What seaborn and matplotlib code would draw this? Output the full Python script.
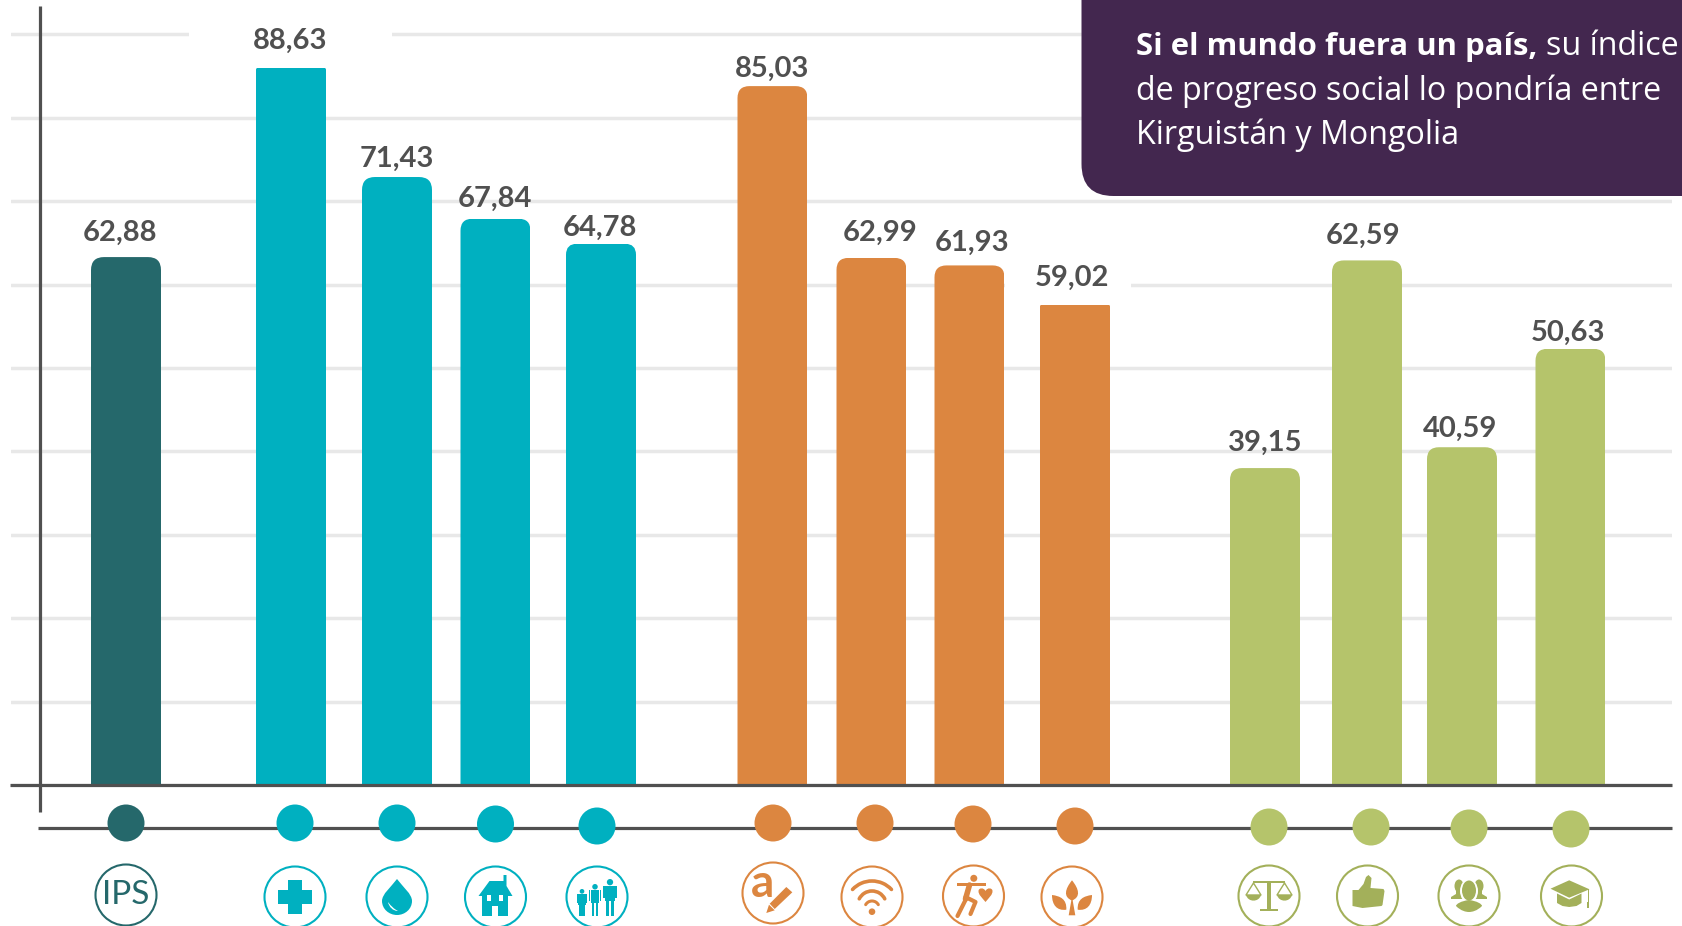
import numpy as np
import pandas as pd
import matplotlib
matplotlib.use("Agg")
import matplotlib.pyplot as plt
import matplotlib.patches as mp
from matplotlib.path import Path
from matplotlib.transforms import Affine2D
import seaborn as sns

# ---------- data ----------
categories = ["IPS", "Nutricion", "Agua", "Vivienda", "Seguridad",
              "Conocimientos", "Informacion", "Salud", "Ambiente",
              "Derechos", "Libertad", "Tolerancia", "Educacion"]
groups = ["Indice", "Necesidades", "Necesidades", "Necesidades", "Necesidades",
          "Fundamentos", "Fundamentos", "Fundamentos", "Fundamentos",
          "Oportunidades", "Oportunidades", "Oportunidades", "Oportunidades"]
value_labels = [62.88, 88.63, 71.43, 67.84, 64.78, 85.03, 62.99, 61.93, 59.02,
                39.15, 62.59, 40.59, 50.63]
# bar heights as actually drawn, read against the gridlines
bar_heights = [63.3, 86.0, 72.9, 67.9, 64.9, 83.8, 63.2, 62.3, 57.6,
               38.0, 62.9, 40.5, 52.3]
grid_ticks = [0, 10, 20, 30, 40, 50, 60, 70, 80, 90]
box_bold = "Si el mundo fuera un país,"
box_lines = [" su índice", "de progreso social lo pondría entre", "Kirguistán y Mongolia"]

# ---------- layout (pixels) ----------
W, H = 1683, 926
BASE_Y, UNIT = 785, 8.34
bar_x = [126, 291, 397, 495.5, 601, 772.5, 871.5, 969.5, 1075, 1265, 1367, 1462, 1570.5]
bar_w = 70
radius = [13, 2, 13, 12, 11, 12, 12, 12, 2, 12, 12, 12, 12]
label_x = [120, 290, 397, 495, 600, 772, 880, 972, 1072, 1265, 1363, 1460, 1568]
label_y = [233, 41, 159, 199, 228, 69, 233, 243, 278, 443, 236, 429, 333]
dot_x = [126, 295, 397, 495.5, 597, 773, 875, 973, 1075, 1269, 1371, 1469, 1571]
dot_y = [823, 823, 823, 824, 826, 823, 823, 824, 826, 827, 827, 828, 829]
ring_x = [126, 295, 397, 495.5, 597, 773, 872, 973.5, 1072, 1269, 1367.5, 1469, 1571.5]
ring_y = [895, 897, 897, 897, 897, 893, 897, 896, 897, 896, 896, 896, 896]

DARK, TEAL, ORANGE, GREEN = "#25686B", "#00B0C0", "#DC8640", "#B5C46B"
OLIVE = "#A3B05A"
palette = {"Indice": DARK, "Necesidades": TEAL, "Fundamentos": ORANGE, "Oportunidades": GREEN}
GRAY, GRID, PURPLE = "#505050", "#E8E8E8", "#43274F"

sns.set_theme(style="white", rc={"axes.grid": True, "grid.color": GRID, "grid.linewidth": 2.5})
plt.rcParams["font.family"] = ["Lato", "DejaVu Sans"]

fig = plt.figure(figsize=(W / 100, H / 100), dpi=100, facecolor="white")
L, R = 11, 1672
ax = fig.add_axes([L / W, (H - BASE_Y) / H, (R - L) / W, BASE_Y / H])
ov = fig.add_axes([0, 0, 1, 1], facecolor="none")
ov.set_xlim(0, W); ov.set_ylim(H, 0); ov.axis("off")

df = pd.DataFrame({"cat": categories, "grupo": groups, "x": bar_x, "h": bar_heights})
sns.barplot(data=df, x="x", y="h", hue="grupo", palette=palette, native_scale=True,
            dodge=False, legend=False, ax=ax, saturation=1)
ax.set_xlim(L, R); ax.set_ylim(0, BASE_Y / UNIT)
ax.set_yticks(grid_ticks); ax.set_xticks([])
ax.set_xlabel(""); ax.set_ylabel("")
ax.tick_params(length=0, labelleft=False, labelbottom=False)
ax.set_axisbelow(True)
ax.xaxis.grid(False)
sns.despine(ax=ax, left=True, bottom=True, top=True, right=True)

bars = sorted([p for p in ax.patches if p.get_height() > 0], key=lambda p: p.get_x())
for p, xc, r in zip(bars, bar_x, radius):
    p.set_x(xc - bar_w / 2); p.set_width(bar_w); p.set_linewidth(0); p.set_zorder(2)
    top = BASE_Y - p.get_height() * UNIT
    clip = mp.FancyBboxPatch((xc - bar_w / 2, top), bar_w, BASE_Y + 40 - top,
                             boxstyle=f"round,pad=0,rounding_size={r}", transform=ov.transData)
    p.set_clip_path(clip)

# white gaps behind two labels
ax.add_patch(mp.Rectangle((189, 88), 203, 4, fc="white", ec="none", zorder=1))
ax.add_patch(mp.Rectangle((1005, 58), 126, 4, fc="white", ec="none", zorder=1))

# axis lines
ov.plot([10, 1672], [785, 785], color=GRAY, lw=2.3, solid_capstyle="butt", zorder=3)
ov.plot([40, 40], [6, 812], color=GRAY, lw=2.3, solid_capstyle="butt", zorder=3)
ov.plot([38, 1672], [827.5, 827.5], color=GRAY, lw=2.3, solid_capstyle="butt", zorder=3)

# value labels
for v, x, y in zip(value_labels, label_x, label_y):
    ov.text(x, y, f"{v:.2f}".replace(".", ","), ha="center", va="center",
            fontsize=21, fontweight="bold", color=GRAY, zorder=4)

# callout box (Open Sans matches the width of the stretched original text)
BOX_FONT = ["Open Sans", "DejaVu Sans"]
ov.add_patch(mp.FancyBboxPatch((1081.5, -80), 700, 276, boxstyle="round,pad=0,rounding_size=32",
                               fc=PURPLE, ec="none", zorder=5))
tb = ov.text(1136, 55, box_bold, color="white", fontsize=22.4, fontweight="bold", family=BOX_FONT,
             va="baseline", ha="left", zorder=6)
fig.canvas.draw()
x1 = tb.get_window_extent(fig.canvas.get_renderer()).x1
ov.text(x1 + 9, 55, box_lines[0].strip(), color="white", fontsize=23.2, family=BOX_FONT, va="baseline", zorder=6)
ov.text(1136, 100, box_lines[1], color="white", fontsize=23.2, family=BOX_FONT, va="baseline", zorder=6)
ov.text(1136, 144, box_lines[2], color="white", fontsize=23.2, family=BOX_FONT, va="baseline", zorder=6)

# dots and rings
colors = [palette[g] for g in groups]
ring_colors = [DARK] + [TEAL] * 4 + [ORANGE] * 4 + [OLIVE] * 4
for x, y, c in zip(dot_x, dot_y, colors):
    ov.add_patch(mp.Circle((x, y), 18.5, fc=c, ec="none", zorder=4))
for x, y, c in zip(ring_x, ring_y, ring_colors):
    ov.add_patch(mp.Circle((x, y), 30.5, fc="white", ec=c, lw=1.5, zorder=4))


# ---------- icon helpers ----------
def poly(cx, cy, pts, c, z=5):
    ov.add_patch(mp.Polygon([(cx + a, cy + b) for a, b in pts], closed=True, fc=c, ec="none", zorder=z))

def rect(cx, cy, x, y, w, h, c, z=5):
    ov.add_patch(mp.Rectangle((cx + x, cy + y), w, h, fc=c, ec="none", zorder=z))

def circ(cx, cy, x, y, r, c, z=5):
    ov.add_patch(mp.Circle((cx + x, cy + y), r, fc=c, ec="none", zorder=z))

def ell(cx, cy, x, y, w, h, c, z=5):
    ov.add_patch(mp.Ellipse((cx + x, cy + y), w, h, fc=c, ec="none", zorder=z))

def curve(cx, cy, verts, c, z=5):
    v = [(cx + a, cy + b) for a, b in verts]
    codes = [Path.MOVETO] + [Path.CURVE4] * (len(v) - 1)
    ov.add_patch(mp.PathPatch(Path(v, codes), fc=c, ec="none", zorder=z))

def stroke(cx, cy, xs, ys, c, lw, z=5):
    ov.plot([cx + a for a in xs], [cy + b for b in ys], color=c, lw=lw, solid_capstyle="round",
            solid_joinstyle="round", zorder=z)

def arc(cx, cy, x, y, r, t1, t2, c, lw, z=5):
    p = Path.arc(t1, t2).transformed(Affine2D().scale(r).translate(cx + x, cy + y))
    ov.add_patch(mp.PathPatch(p, fc="none", ec=c, lw=lw, capstyle="round", zorder=z))

def person(cx, cy, x, top, s, c):
    circ(cx, cy, x, top + 3 * s, 3 * s, c)
    rect(cx, cy, x - 4.5 * s, top + 7 * s, 9 * s, 14 * s, c)
    rect(cx, cy, x - 6.5 * s, top + 7 * s, 1.6 * s, 11 * s, c)
    rect(cx, cy, x + 4.9 * s, top + 7 * s, 1.6 * s, 11 * s, c)
    rect(cx, cy, x - 3.6 * s, top + 20 * s, 3 * s, 15 * s, c)
    rect(cx, cy, x + .6 * s, top + 20 * s, 3 * s, 15 * s, c)

# IPS
ov.text(ring_x[0], ring_y[0], "IPS", ha="center", va="center", fontsize=24, color=DARK, zorder=5)

# cross
cx, cy = ring_x[1], ring_y[1]
rect(cx, cy, -17, -7, 34, 14, TEAL); rect(cx, cy, -7, -17, 14, 34, TEAL)

# drop
cx, cy = ring_x[2], ring_y[2]
curve(cx, cy, [(0, -18), (-6, -10), (-15, -3), (-15, 4), (-15, 12), (-8, 18), (0, 18),
               (8, 18), (15, 12), (15, 4), (15, -3), (6, -10), (0, -18)], TEAL)
curve(cx, cy, [(-9, 5), (-8, 10), (-4, 14), (1, 14), (-3, 12), (-6, 9), (-9, 5)], "white", 6)

# house
cx, cy = ring_x[3], ring_y[3]
poly(cx, cy, [(-17, -1), (-6, -16), (8, -16), (8, -22), (11, -22), (11, -11), (17, -1)], TEAL)
rect(cx, cy, -13, -1, 26, 20, TEAL)
rect(cx, cy, -8, -2, 4, 6, "white", 6); rect(cx, cy, 4, -2, 4, 6, "white", 6)
rect(cx, cy, -3, 9, 6, 10, "white", 6)

# people
cx, cy = ring_x[4], ring_y[4]
person(cx, cy, -15, -8, .78, TEAL); person(cx, cy, -2, -13, .92, TEAL); person(cx, cy, 13, -18, 1.05, TEAL)

# a + pencil
cx, cy = ring_x[5], ring_y[5]
ov.text(cx - 10, cy + 4, "a", ha="center", va="baseline", fontsize=33, fontweight="bold", color=ORANGE, zorder=5)
poly(cx, cy, [(13.3, -6), (19.3, -0.7), (1.7, 16), (-3.3, 10.7)], ORANGE)
poly(cx, cy, [(-4, 11.7), (1.7, 17.3), (-6.7, 20)], ORANGE)

# wifi
cx, cy = ring_x[6], ring_y[6]
arc(cx, cy, 0, 10.6, 26.6, 223, 317, ORANGE, 2.6)
arc(cx, cy, 0, 8.3, 14.3, 207, 333, ORANGE, 2.6)
arc(cx, cy, 0, 11.3, 7.3, 210, 330, ORANGE, 2.2)
circ(cx, cy, 0, 14.7, 3.3, ORANGE)

# runner + heart
cx, cy = ring_x[7], ring_y[7]
circ(cx, cy, 0.3, -17.7, 3.5, ORANGE)
rect(cx, cy, -16, -13, 29, 2.6, ORANGE)
stroke(cx, cy, [-4, -8], [-11, 3], ORANGE, 4)
stroke(cx, cy, [-8, -16], [4, 20], ORANGE, 3)
stroke(cx, cy, [-8, 2, -3], [1, 6, 18], ORANGE, 3)
curve(cx, cy, [(12, 6), (8, 1), (5, -1), (5, -5), (5, -8), (10, -9), (12, -5),
               (14, -9), (19, -8), (19, -5), (19, -1), (16, 1), (12, 6)], ORANGE)

# leaves
cx, cy = ring_x[8], ring_y[8]
curve(cx, cy, [(0, 3.5), (-9, 0), (-7, -8), (0, -16.7), (7, -8), (9, 0), (0, 3.5)], ORANGE)
for s in (-1, 1):
    curve(cx, cy, [(s * 5.7, 12.7), (s * 15, 14), (s * 20, 8), (s * 20, -2),
                   (s * 12, -1), (s * 5, 2), (s * 5.7, 12.7)], ORANGE)
poly(cx, cy, [(-.6, 3), (.6, 3), (3.3, 18.3), (-3.3, 18.3)], ORANGE)

# scales
cx, cy = ring_x[9], ring_y[9]
rect(cx, cy, -2, -14, 4, 28, OLIVE); rect(cx, cy, -9, 12.7, 18, 2.6, OLIVE)
rect(cx, cy, -16, -15, 32, 2, OLIVE)
for s in (-1, 1):
    stroke(cx, cy, [s * 15.5, s * 8, s * 23, s * 15.5], [-13, -1, -1, -13], OLIVE, 1)
    curve(cx, cy, [(s * 8, -1), (s * 10, 6.5), (s * 21, 6.5), (s * 23, -1)], OLIVE)

# thumb
cx, cy = ring_x[10], ring_y[10]
poly(cx, cy, [(-15, -6), (-9, -6), (-4, -12), (-1.5, -19), (1, -21), (4, -18), (3, -8), (16, -7),
              (17, -5), (16, 2), (15, 9), (14, 10), (-5, 12), (-15, 10)], OLIVE)

# busts
cx, cy = ring_x[11], ring_y[11]
for s in (-1, 1):
    ell(cx, cy, s * 10, -10, 9, 13, OLIVE)
    poly(cx, cy, [(s * 6, -6), (s * 13, -6), (s * 13, -2), (s * 18, 1), (s * 18, 3), (s * 4, 3)], OLIVE)
ell(cx, cy, 0, -5, 18, 24, "white", 6); ell(cx, cy, 0, -5.5, 14, 20, OLIVE, 7)
curve(cx, cy, [(0, 4), (-8, 5), (-13, 8), (-13, 10), (-8, 15), (-3, 16), (0, 16),
               (3, 16), (8, 15), (13, 10), (13, 8), (8, 5), (0, 4)], OLIVE, 7)

# mortarboard
cx, cy = ring_x[12], ring_y[12]
poly(cx, cy, [(-21, -7.3), (-2.3, -15.7), (18, -6.7), (-2.3, 1.7)], OLIVE)
poly(cx, cy, [(-14.5, -2.5), (-2.3, 3.5), (10, -2.5), (10, 7), (5, 10), (-2.3, 11), (-9, 10), (-14.5, 7)], OLIVE)
rect(cx, cy, 16.3, -7, 1.2, 14, OLIVE); rect(cx, cy, 15.8, 6, 2.2, 6, OLIVE)

fig.savefig("out.png", dpi=100)
